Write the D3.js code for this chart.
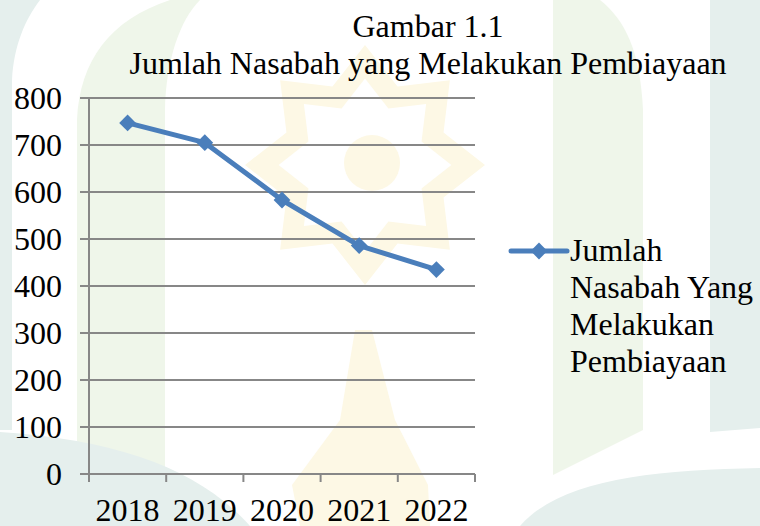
<!DOCTYPE html>
<html>
<head>
<meta charset="utf-8">
<script src="https://cdn.jsdelivr.net/npm/d3@7"></script>
<style>
  body { margin: 0; background: #fff; }
  svg { display: block; }
  text { font-family: "Liberation Serif", "Times New Roman", serif; fill: #000; }
</style>
</head>
<body>
<svg id="drawing_region"></svg>
<script>
// data
const years = ['2018', '2019', '2020', '2021', '2022'];
const nasabah = [747, 705, 583, 486, 435];
const yTicks = [0, 100, 200, 300, 400, 500, 600, 700, 800];
const titleLines = ['Gambar 1.1', 'Jumlah Nasabah yang Melakukan Pembiayaan'];
const legendLines = ['Jumlah', 'Nasabah Yang', 'Melakukan', 'Pembiayaan'];

const config = {
    width: 760,
    height: 526,
    margin: {top: 98, right: 285, bottom: 50, left: 89}
};

const svg = d3.select('#drawing_region')
    .attr('width', config.width)
    .attr('height', config.height);

// faint watermark in the background
const wm = svg.append('g');
wm.append('path')
    .attr('d', 'M0,0 L40,0 C25,20 14,45 12,80 L12,430 L0,430 Z')
    .attr('fill', '#e5efed');
wm.append('path')
    .attr('d', 'M77,463 L77,120 C80,60 110,20 170,0 L200,0 C180,20 166,60 165,110 L165,500 Z')
    .attr('fill', '#eff6ea');
wm.append('path')
    .attr('d', 'M553,475 L553,0 L600,0 C625,20 640,50 643,110 L643,430 Z')
    .attr('fill', '#eff6ea');
wm.append('path')
    .attr('d', 'M710,0 L760,0 L760,428 L710,432 Z')
    .attr('fill', '#e5efed');
wm.append('path')
    .attr('d', 'M0,432 C120,440 200,470 250,526 L0,526 Z')
    .attr('fill', '#e5efed');
wm.append('path')
    .attr('d', 'M520,526 C560,480 650,470 760,468 L760,526 Z')
    .attr('fill', '#e5efed');
// star
const star = d3.range(16).map(i => {
    const a = i * Math.PI / 8 - Math.PI / 2;
    const r = i % 2 ? 85 : 120;
    return [365 + r * Math.cos(a), 165 + r * Math.sin(a)];
});
wm.append('path')
    .attr('d', d3.line()(star) + 'Z')
    .attr('fill', '#fdf8e5');
wm.append('path')
    .attr('d', d3.line()(star.map(p => [365 + (p[0] - 365) * 0.72, 165 + (p[1] - 165) * 0.72])) + 'Z')
    .attr('fill', '#fff');
wm.append('circle')
    .attr('cx', 372).attr('cy', 163).attr('r', 28)
    .attr('fill', '#fdf8e5');
wm.append('path')
    .attr('d', 'M355,330 L340,420 L292,485 L300,526 L430,526 L428,485 L395,420 L372,330 Z')
    .attr('fill', '#fdf8e5');

const inner_width = config.width - config.margin.left - config.margin.right;
const inner_height = config.height - config.margin.top - config.margin.bottom - 2;

const chart = svg.append('g')
    .attr('transform', `translate(${config.margin.left}, ${config.margin.top})`);

const xscale = d3.scaleBand()
    .domain(years)
    .range([0, inner_width]);

const yscale = d3.scaleLinear()
    .domain([0, 800])
    .range([inner_height, 0]);

// grid lines
chart.append('g')
    .selectAll('line')
    .data(yTicks)
    .join('line')
    .attr('x1', -9)
    .attr('x2', inner_width)
    .attr('y1', d => yscale(d))
    .attr('y2', d => yscale(d))
    .attr('stroke', '#878787')
    .attr('stroke-width', 2);

// y axis labels
const yaxis = d3.axisLeft(yscale)
    .tickValues(yTicks)
    .tickSize(0)
    .tickPadding(27);
chart.append('g')
    .call(yaxis)
    .call(g => g.select('.domain').remove())
    .selectAll('text')
    .attr('font-family', '"Liberation Serif", "Times New Roman", serif')
    .attr('font-size', 32)
    .attr('dy', '0.33em')
    .attr('fill', '#000');

// vertical axis line
chart.append('line')
    .attr('x1', 0).attr('x2', 0)
    .attr('y1', 0).attr('y2', inner_height + 8)
    .attr('stroke', '#878787')
    .attr('stroke-width', 2);

// x axis with ticks between categories
chart.append('g')
    .selectAll('line')
    .data(years.map(d => xscale(d) + xscale.bandwidth()).concat([0]))
    .join('line')
    .attr('x1', d => d).attr('x2', d => d)
    .attr('y1', inner_height).attr('y2', inner_height + 8)
    .attr('stroke', '#878787')
    .attr('stroke-width', 2);

chart.append('g')
    .selectAll('text')
    .data(years)
    .join('text')
    .attr('x', d => xscale(d) + xscale.bandwidth() / 2)
    .attr('y', inner_height + 47)
    .attr('text-anchor', 'middle')
    .attr('font-size', 32)
    .text(d => d);

// the series
const points = years.map((d, i) => ({year: d, value: nasabah[i]}));
const line = d3.line()
    .x(d => xscale(d.year) + xscale.bandwidth() / 2)
    .y(d => yscale(d.value));

chart.append('path')
    .datum(points)
    .attr('d', line)
    .attr('fill', 'none')
    .attr('stroke', '#4a7ebb')
    .attr('stroke-width', 5)
    .attr('stroke-linejoin', 'round');

const diamond = d3.symbol().type(d3.symbolDiamond2).size(180);
chart.selectAll('.marker')
    .data(points)
    .join('path')
    .attr('class', 'marker')
    .attr('transform', d => `translate(${xscale(d.year) + xscale.bandwidth() / 2}, ${yscale(d.value)})`)
    .attr('d', diamond)
    .attr('fill', '#4a7ebb');

// title
svg.append('g')
    .selectAll('text')
    .data(titleLines)
    .join('text')
    .attr('x', 428)
    .attr('y', (d, i) => 37 + i * 37)
    .attr('text-anchor', 'middle')
    .attr('font-size', 32)
    .text(d => d);

// legend
const legend = svg.append('g')
    .attr('transform', 'translate(511, 251)');
legend.append('line')
    .attr('x1', 0).attr('x2', 56)
    .attr('stroke', '#4a7ebb')
    .attr('stroke-width', 5)
    .attr('stroke-linecap', 'round');
legend.append('path')
    .attr('transform', 'translate(28, 0)')
    .attr('d', diamond)
    .attr('fill', '#4a7ebb');
legend.selectAll('text')
    .data(legendLines)
    .join('text')
    .attr('x', 59)
    .attr('y', (d, i) => 10 + i * 37)
    .attr('font-size', 32)
    .text(d => d);
</script>
</body>
</html>
